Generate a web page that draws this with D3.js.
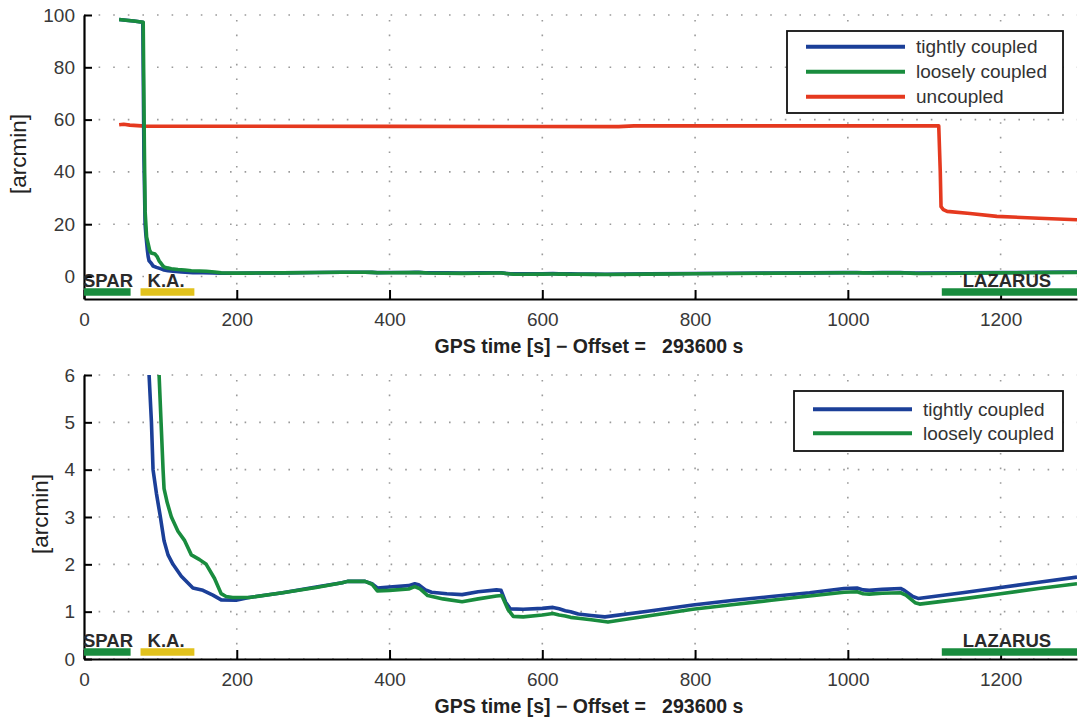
<!DOCTYPE html>
<html>
<head>
<meta charset="utf-8">
<script src="https://cdn.jsdelivr.net/npm/d3@7"></script>
<style>
  html, body { margin: 0; padding: 0; background: #fff; }
  svg { display: block; font-family: "Liberation Sans", Arial, sans-serif; }
  .tick text { fill: #383838; font-size: 19px; }
  .domain { stroke: #000; stroke-width: 2.2px; }
  .tick line { stroke: #000; stroke-width: 2px; }
</style>
</head>
<body>
<svg id="chart" width="1085" height="721"></svg>
<script>
// Attitude error of the three coupling schemes, [time s, error arcmin]
const tightlyCoupled = [
  [46, 98.3], [55, 98.0], [65, 97.7], [77, 97.2], [78.5, 45], [80, 20], [81, 16], [83, 10],
  [84, 7.6], [85.2, 6.0], [88.3, 5.0], [90.4, 4.0], [94.8, 3.5], [100, 3.0], [104.8, 2.5],
  [110, 2.2], [116.5, 2.0], [127.4, 1.75], [142.6, 1.5], [155.7, 1.45], [168.7, 1.35],
  [179.6, 1.25], [199, 1.24], [216, 1.30], [260, 1.40], [304, 1.52], [338, 1.61], [345, 1.64],
  [368, 1.64], [377, 1.59], [384, 1.50], [400, 1.52], [425, 1.55], [433, 1.59], [438, 1.57],
  [447, 1.46], [455, 1.41], [475, 1.38], [495, 1.36], [516, 1.42], [540, 1.46], [546, 1.45],
  [552, 1.20], [558, 1.06], [575, 1.05], [600, 1.07], [614, 1.09], [622, 1.06], [630, 1.02],
  [637, 1.00], [647, 0.95], [664, 0.92], [682, 0.89], [738, 1.01], [797, 1.14], [851, 1.24],
  [900, 1.32], [950, 1.40], [995, 1.49], [1012, 1.50], [1020, 1.46], [1028, 1.45], [1045, 1.47],
  [1069, 1.49], [1074, 1.45], [1085, 1.32], [1092, 1.28], [1150, 1.40], [1200, 1.51],
  [1250, 1.62], [1300, 1.73]
];
const looselyCoupled = [
  [46, 98.3], [55, 98.0], [65, 97.7], [77.5, 97.2], [79, 50], [80, 25], [82, 15], [86, 10],
  [88, 9.0], [93, 8.6], [96, 7.5], [98.3, 6.0], [100.9, 5.0], [103.5, 4.0], [104.8, 3.6],
  [109, 3.3], [114.4, 3.0], [123, 2.7], [131.8, 2.5], [140.5, 2.2], [151.3, 2.1], [160, 2.0],
  [170.9, 1.7], [179.6, 1.38], [186, 1.32], [194.7, 1.30], [216.6, 1.30], [260, 1.40],
  [304, 1.51], [338, 1.61], [345, 1.64], [368, 1.64], [377, 1.58], [384, 1.44], [400, 1.45],
  [425, 1.48], [433, 1.53], [440, 1.48], [450, 1.34], [470, 1.27], [495, 1.21], [516, 1.27],
  [540, 1.33], [547, 1.34], [555, 1.05], [562, 0.90], [575, 0.89], [600, 0.93], [614, 0.96],
  [622, 0.93], [630, 0.91], [637, 0.88], [647, 0.86], [664, 0.83], [686, 0.78], [738, 0.91],
  [797, 1.05], [851, 1.15], [900, 1.24], [950, 1.33], [995, 1.41], [1012, 1.42], [1020, 1.38],
  [1028, 1.37], [1045, 1.39], [1069, 1.40], [1076, 1.35], [1088, 1.19], [1094, 1.16],
  [1150, 1.27], [1200, 1.38], [1250, 1.49], [1300, 1.59]
];
const uncoupled = [
  [46, 58.0], [52, 58.2], [60, 57.9], [80, 57.5], [400, 57.4], [700, 57.3], [720, 57.6],
  [1000, 57.6], [1119, 57.6], [1121, 40], [1122, 26.7], [1125, 25.6], [1130, 24.9],
  [1160, 24.1], [1195, 23.0], [1250, 22.3], [1300, 21.7]
];

// Flight phases shown along the time axis: [label, start s, end s]
const phases = [["SPAR", 0, 61], ["K.A.", 74, 144.5], ["LAZARUS", 1123, 1300]];

const xTicks = [0, 200, 400, 600, 800, 1000, 1200];
const yTicksTop = [0, 20, 40, 60, 80, 100];
const yTicksBottom = [0, 1, 2, 3, 4, 5, 6];
const xTitle = "GPS time [s] \u2212 Offset =   293600 s";
const yTitle = "[arcmin]";

const colors = {
  tight: "#1b3f98",
  loose: "#198c3e",
  uncoupled: "#e5391f",
  SPAR: "#198c3e",
  "K.A.": "#e2c21c",
  LAZARUS: "#198c3e"
};

const svg = d3.select("#chart");
const x = d3.scaleLinear().domain([0, 1300]).range([84, 1077]);
const plain = d => String(d);

const panels = [
  {
    id: "top", top: 15, bottom: 299, domain: [-8.6, 100], ticks: yTicksTop, phaseY: -5.9,
    series: [
      { key: "tight", data: tightlyCoupled, label: "tightly coupled" },
      { key: "loose", data: looselyCoupled, label: "loosely coupled" },
      { key: "uncoupled", data: uncoupled, label: "uncoupled" }
    ],
    drawOrder: ["uncoupled", "tight", "loose"],
    legend: { x0: 787, x1: 1063, y0: 31, y1: 113, lx0: 806, lx1: 905, tx: 916, rows: [46.7, 71.7, 96.7] },
    yTitleX: 18
  },
  {
    id: "bottom", top: 375, bottom: 659, domain: [0, 6], ticks: yTicksBottom, phaseY: 0.15,
    series: [
      { key: "tight", data: tightlyCoupled, label: "tightly coupled" },
      { key: "loose", data: looselyCoupled, label: "loosely coupled" }
    ],
    drawOrder: ["tight", "loose"],
    legend: { x0: 794, x1: 1063, y0: 391, y1: 451, lx0: 813, lx1: 912, tx: 923, rows: [409.3, 433.3] },
    yTitleX: 40
  }
];

panels.forEach(p => {
  const y = d3.scaleLinear().domain(p.domain).range([p.bottom, p.top]);
  const g = svg.append("g");

  g.append("clipPath").attr("id", "clip-" + p.id)
    .append("rect").attr("x", x.range()[0]).attr("y", p.top)
    .attr("width", x.range()[1] - x.range()[0]).attr("height", p.bottom - p.top);

  // dotted grid
  const grid = g.append("g").attr("stroke", "#9a9a9a").attr("stroke-width", 1.6)
    .attr("stroke-dasharray", "1.6,13");
  grid.selectAll(".gx").data(xTicks.filter(d => d > 0)).join("line")
    .attr("x1", d => x(d)).attr("x2", d => x(d)).attr("y1", p.bottom).attr("y2", p.top);
  grid.selectAll(".gy").data(p.ticks).join("line")
    .attr("x1", x.range()[0]).attr("x2", x.range()[1]).attr("y1", d => y(d)).attr("y2", d => y(d));

  // series lines
  const line = d3.line().x(d => x(d[0])).y(d => y(d[1]));
  const byKey = Object.fromEntries(p.series.map(s => [s.key, s]));
  g.append("g").attr("clip-path", "url(#clip-" + p.id + ")")
    .selectAll("path").data(p.drawOrder.map(k => byKey[k])).join("path")
    .attr("d", s => line(s.data))
    .attr("fill", "none")
    .attr("stroke", s => colors[s.key])
    .attr("stroke-width", 3.6)
    .attr("stroke-linejoin", "round");

  // axes with inward ticks
  g.append("g").attr("transform", `translate(0,${p.bottom})`)
    .call(d3.axisBottom(x).tickValues(xTicks).tickFormat(plain)
      .tickSizeInner(-9).tickSizeOuter(0).tickPadding(14));
  g.append("g").attr("transform", `translate(${x.range()[0]},0)`)
    .call(d3.axisLeft(y).tickValues(p.ticks).tickFormat(plain)
      .tickSizeInner(-8).tickSizeOuter(0).tickPadding(9));

  // flight phase bars and labels
  const py = y(p.phaseY);
  const ph = g.append("g");
  ph.selectAll("line").data(phases).join("line")
    .attr("x1", d => x(d[1])).attr("x2", d => x(d[2]))
    .attr("y1", py).attr("y2", py)
    .attr("stroke", d => colors[d[0]]).attr("stroke-width", 7.5);
  ph.selectAll("text").data(phases).join("text")
    .attr("x", d => d[0] === "LAZARUS" ? x(d[1]) + 21 : x(d[1]) + (d[0] === "SPAR" ? -1 : 7))
    .attr("y", py - 5)
    .attr("font-size", 18.5).attr("font-weight", "bold").attr("fill", "#2a2a2a")
    .text(d => d[0]);

  // axis titles
  g.append("text")
    .attr("x", 589).attr("y", p.bottom + 54)
    .attr("text-anchor", "middle").attr("font-size", 19.5).attr("font-weight", "bold")
    .attr("fill", "#222").style("white-space", "pre")
    .text(xTitle);
  g.append("text")
    .attr("transform", `translate(${p.yTitleX},${(p.top + p.bottom) / 2 - 3}) rotate(-90)`)
    .attr("text-anchor", "middle").attr("dominant-baseline", "central")
    .attr("font-size", 22.5).attr("fill", "#222")
    .text(yTitle);

  // legend
  const L = p.legend;
  const lg = g.append("g");
  lg.append("rect").attr("x", L.x0).attr("y", L.y0)
    .attr("width", L.x1 - L.x0).attr("height", L.y1 - L.y0)
    .attr("fill", "#fff").attr("stroke", "#111").attr("stroke-width", 1.8);
  const rows = lg.selectAll("g.row").data(p.series).join("g")
    .attr("transform", (s, i) => `translate(0,${L.rows[i]})`);
  rows.append("line").attr("x1", L.lx0).attr("x2", L.lx1)
    .attr("stroke", s => colors[s.key]).attr("stroke-width", 4);
  rows.append("text").attr("x", L.tx).attr("dy", "0.35em")
    .attr("font-size", 19).attr("fill", "#333")
    .text(s => s.label);
});
</script>
</body>
</html>
